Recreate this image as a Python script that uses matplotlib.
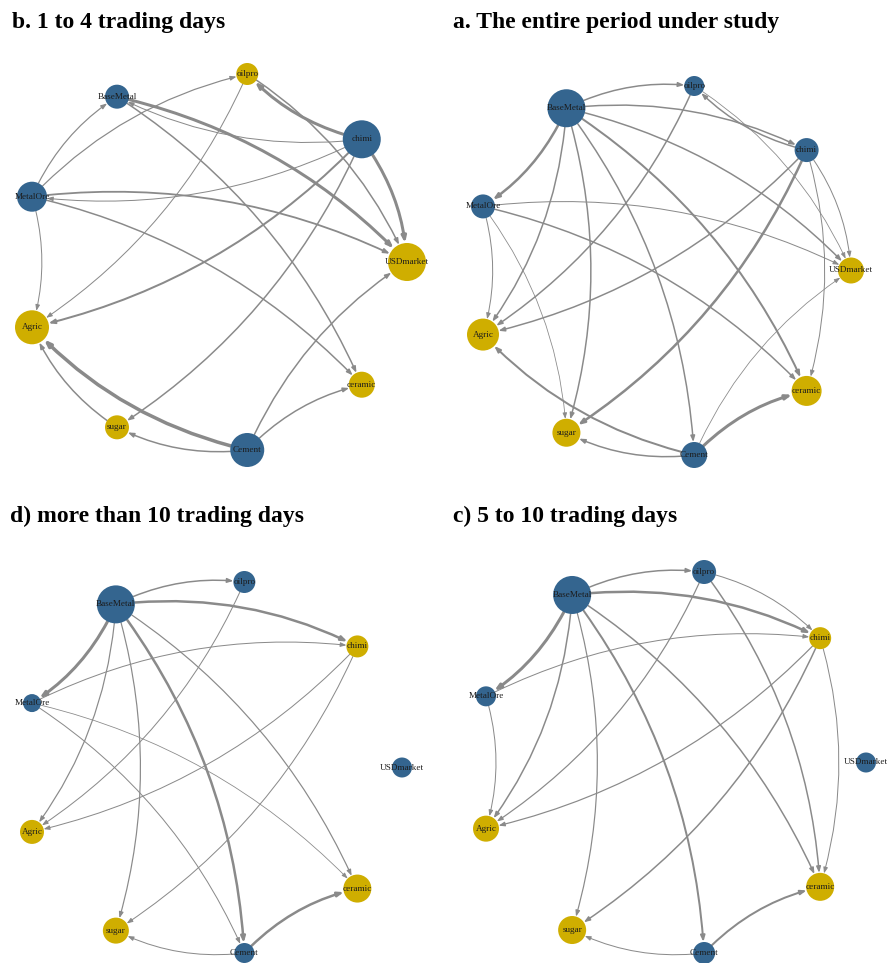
import numpy as np
import matplotlib
matplotlib.use("Agg")
import matplotlib.pyplot as plt
from matplotlib.patches import Circle, FancyArrowPatch

# Markets, in the order they sit on the circle layout (counter-clockwise from the right)
NODES = ["USDmarket", "chimi", "oilpro", "BaseMetal", "MetalOre",
         "Agric", "sugar", "Cement", "ceramic"]

# net role per market: T = net transmitter, R = net receiver
ROLE_ALL = ["R", "T", "T", "T", "T", "R", "R", "T", "R"]
ROLE_SHORT = ["R", "T", "R", "T", "T", "R", "R", "T", "R"]
ROLE_MEDIUM = ["T", "R", "T", "T", "T", "R", "R", "T", "R"]
ROLE_LONG = ["T", "R", "T", "T", "T", "R", "R", "T", "R"]

# vertex sizes (total connectedness)
SIZE_ALL = [13, 12, 10, 19, 12, 16, 14, 13, 15]
SIZE_SHORT = [19, 19, 11, 12, 15, 17, 12, 17, 13]
SIZE_MEDIUM = [10, 11, 12, 19, 10, 13, 14, 11, 14]
SIZE_LONG = [10, 11, 11, 19, 9, 12, 13, 10, 14]

# directed spillovers: (from, to, weight)
EDGES_ALL = [
    ("BaseMetal", "oilpro", 1.5), ("BaseMetal", "chimi", 1.5),
    ("BaseMetal", "USDmarket", 1.5), ("BaseMetal", "ceramic", 2.0),
    ("BaseMetal", "Cement", 1.5), ("BaseMetal", "sugar", 1.5),
    ("BaseMetal", "Agric", 1.5), ("BaseMetal", "MetalOre", 2.5),
    ("chimi", "oilpro", 1.5), ("oilpro", "USDmarket", 0.8),
    ("chimi", "USDmarket", 1.0), ("chimi", "ceramic", 1.0),
    ("chimi", "Agric", 1.5), ("chimi", "sugar", 2.5),
    ("oilpro", "Agric", 1.5),
    ("MetalOre", "USDmarket", 1.0), ("MetalOre", "ceramic", 1.5),
    ("MetalOre", "Agric", 1.0), ("MetalOre", "sugar", 0.8),
    ("Cement", "Agric", 2.0), ("Cement", "sugar", 1.5),
    ("Cement", "ceramic", 3.0), ("Cement", "USDmarket", 0.8),
]
EDGES_SHORT = [
    ("MetalOre", "BaseMetal", 1.2), ("MetalOre", "oilpro", 1.2),
    ("MetalOre", "USDmarket", 1.8), ("MetalOre", "ceramic", 1.5),
    ("MetalOre", "Agric", 1.0),
    ("chimi", "MetalOre", 1.0), ("chimi", "BaseMetal", 1.0),
    ("chimi", "oilpro", 3.0), ("chimi", "USDmarket", 3.0),
    ("chimi", "Agric", 2.0), ("chimi", "sugar", 1.5),
    ("BaseMetal", "USDmarket", 3.0), ("BaseMetal", "ceramic", 1.5),
    ("oilpro", "Agric", 1.0), ("oilpro", "USDmarket", 1.5),
    ("Cement", "Agric", 3.5), ("Cement", "sugar", 1.5),
    ("Cement", "USDmarket", 1.5), ("Cement", "ceramic", 1.5),
    ("sugar", "Agric", 1.5),
]
EDGES_MEDIUM = [
    ("BaseMetal", "oilpro", 1.5), ("BaseMetal", "chimi", 2.5),
    ("BaseMetal", "MetalOre", 3.0), ("BaseMetal", "Agric", 1.5),
    ("BaseMetal", "sugar", 1.2), ("BaseMetal", "Cement", 2.0),
    ("BaseMetal", "ceramic", 1.5),
    ("oilpro", "chimi", 1.0), ("oilpro", "ceramic", 1.5),
    ("oilpro", "Agric", 1.2),
    ("MetalOre", "chimi", 1.0), ("MetalOre", "Agric", 1.0),
    ("chimi", "Agric", 1.2), ("chimi", "sugar", 1.5),
    ("chimi", "ceramic", 1.0),
    ("Cement", "sugar", 1.0), ("Cement", "ceramic", 2.0),
]
EDGES_LONG = [
    ("BaseMetal", "oilpro", 1.5), ("BaseMetal", "chimi", 2.5),
    ("BaseMetal", "MetalOre", 3.0), ("BaseMetal", "Agric", 1.2),
    ("BaseMetal", "sugar", 1.2), ("BaseMetal", "Cement", 2.5),
    ("BaseMetal", "ceramic", 1.2),
    ("oilpro", "Agric", 1.0), ("MetalOre", "chimi", 1.0),
    ("MetalOre", "ceramic", 0.8), ("MetalOre", "Cement", 1.0),
    ("chimi", "Agric", 1.0), ("chimi", "sugar", 1.0),
    ("Cement", "sugar", 1.0), ("Cement", "ceramic", 2.5),
]

TITLES = ["b. 1 to 4 trading days", "a. The entire period under study",
          "d) more than 10 trading days", "c) 5 to 10 trading days"]

BLUE = "#34658f"
GOLD = "#cfae00"
EDGE_GREY = "#8a8a8a"
SERIF = "Liberation Serif"
RAD = -0.15

fig = plt.figure(figsize=(8.88, 9.63), dpi=100)
ax = fig.add_axes([0, 0, 1, 1])
ax.set_xlim(0, 888)
ax.set_ylim(963, 0)
ax.axis("off")

# circle layout, rescaled into each panel's box like igraph does
ang = 2 * np.pi * np.arange(len(NODES)) / len(NODES)
cx, cy = np.cos(ang), np.sin(ang)


def place(box):
    x0, x1, y0, y1 = box
    xs = x0 + (cx - cx.min()) / (cx.max() - cx.min()) * (x1 - x0)
    ys = y0 + (cy.max() - cy) / (cy.max() - cy.min()) * (y1 - y0)
    return dict(zip(NODES, zip(xs, ys)))


def draw_net(box, roles, sizes, edges, title, tx, ty):
    pos = place(box)
    rad = dict(zip(NODES, sizes))
    for src, dst, w in edges:
        arr = FancyArrowPatch(pos[src], pos[dst],
                              connectionstyle=f"arc3,rad={RAD}",
                              arrowstyle="-|>,head_length=0.35,head_width=0.13",
                              mutation_scale=10, lw=0.72 * w,
                              color=EDGE_GREY,
                              shrinkA=rad[src] * 0.72, shrinkB=rad[dst] * 0.72,
                              zorder=1)
        ax.add_patch(arr)
    for name, role in zip(NODES, roles):
        ax.add_patch(Circle(pos[name], rad[name],
                            facecolor=BLUE if role == "T" else GOLD,
                            edgecolor="none", zorder=2))
        ax.text(pos[name][0], pos[name][1], name, ha="center", va="center",
                fontsize=6.6, family=SERIF, color="#1c1c1c", zorder=3)
    ax.text(tx, ty, title, fontsize=17, family=SERIF, fontweight="bold",
            va="baseline", ha="left")


draw_net((32, 407, 74, 450), ROLE_SHORT, SIZE_SHORT, EDGES_SHORT, TITLES[0], 12, 28)
draw_net((483, 851, 86, 455), ROLE_ALL, SIZE_ALL, EDGES_ALL, TITLES[1], 453, 28)
draw_net((32, 402, 582, 953), ROLE_LONG, SIZE_LONG, EDGES_LONG, TITLES[2], 10, 522)
draw_net((486, 866, 572, 953), ROLE_MEDIUM, SIZE_MEDIUM, EDGES_MEDIUM, TITLES[3], 453, 522)

fig.savefig("out.png", dpi=100)
